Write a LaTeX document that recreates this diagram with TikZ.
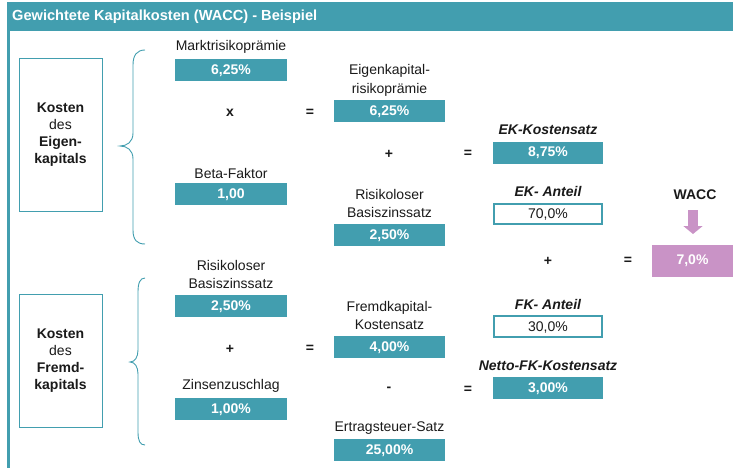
\documentclass[tikz,border=0pt]{standalone}
\usepackage{fontspec}
\setmainfont{Liberation Sans}
\usetikzlibrary{arrows.meta}
\definecolor{tealc}{HTML}{429EAF}
\definecolor{pinkc}{HTML}{C993C6}
\definecolor{txtc}{HTML}{1A1A1A}
\tikzset{
  lbl/.style={font=\fontsize{14}{18}\selectfont, text=txtc, align=center, inner sep=0pt},
  lblb/.style={lbl, font=\fontsize{14}{18}\selectfont\bfseries},
  lbli/.style={lbl, font=\fontsize{14}{18}\selectfont\bfseries\itshape},
  val/.style={fill=tealc, text=white, font=\fontsize{14}{17}\selectfont\bfseries, minimum height=22pt, inner sep=0pt, text height=10pt, text depth=1pt},
  share/.style={draw=tealc, line width=1.6pt, fill=white, text=txtc, font=\fontsize{14}{17}\selectfont, minimum height=20.5pt, inner sep=0pt, text height=10pt, text depth=1pt},
  sidebox/.style={draw=tealc, line width=1pt, fill=white, minimum width=83pt, text=txtc, inner sep=0pt, align=center, font=\fontsize{14}{17}\selectfont},
  brace/.style={draw=tealc, line width=0.9pt},
  op/.style={font=\fontsize{14}{17}\selectfont\bfseries, text=txtc, inner sep=0pt}
}
\begin{document}
\begin{tikzpicture}[x=1pt,y=-1pt]
\useasboundingbox (0,0) rectangle (733,468);
% frame
\fill[tealc] (7,2) rectangle (733,31);
\fill[tealc] (7,31) rectangle (9.5,468);
\node[anchor=west, text=white, font=\fontsize{14.6}{17}\selectfont\bfseries, inner sep=0pt] (title) at (12,16.5) {Gewichtete Kapitalkosten (WACC) - Beispiel};

% side boxes
\node[sidebox, minimum height=152pt] (ek) at (60.5,135) {\textbf{Kosten}\\des\\\textbf{Eigen-}\\\textbf{kapitals}};
\node[sidebox, minimum height=133pt] (fk) at (60.5,360.5) {\textbf{Kosten}\\des\\\textbf{Fremd-}\\\textbf{kapitals}};

% braces
\draw[brace] (145,50) .. controls (137,50) and (133,55) .. (133,65) -- (133,133) .. controls (133,142) and (127,146) .. (120,146) .. controls (127,146) and (133,150) .. (133,159) -- (133,230) .. controls (133,240) and (137,244) .. (145,244);
\draw[brace] (145,278) .. controls (140,278) and (138,283) .. (138,292) -- (138,350) .. controls (138,357) and (135,362) .. (130,362) .. controls (135,362) and (138,367) .. (138,374) -- (138,432) .. controls (138,441) and (140,445) .. (145,445);

% column 1 (EK)
\node[lbl] (l1a) at (231,47) {Marktrisikoprämie};
\node[val, minimum width=112pt] (v1a) at (231,70) {6,25\%};
\node[op] (x1) at (230,113) {x};
\node[op] (eq1) at (310,113) {=};
\node[lbl] (l1b) at (231,173) {Beta-Faktor};
\node[val, minimum width=112pt] (v1b) at (231,193.5) {1,00};

% column 2 (EK)
\node[lbl] (l2a) at (389.5,80) {Eigenkapital-\\[1pt]risikoprämie};
\node[val, minimum width=111pt] (v2a) at (389.5,111) {6,25\%};
\node[op] (p2) at (389,154) {+};
\node[op] (eq2) at (468,154) {=};
\node[lbl] (l2b) at (389.5,203.5) {Risikoloser\\Basiszinssatz};
\node[val, minimum width=111pt] (v2b) at (389.5,234.5) {2,50\%};

% column 3 (EK)
\node[lbli] (l3a) at (548,130) {EK-Kostensatz};
\node[val, minimum width=110pt] (v3a) at (548,152.5) {8,75\%};
\node[lbli] (l3b) at (548,191) {EK- Anteil};
\node[share, minimum width=108pt] (v3b) at (548,214) {70,0\%};

% WACC
\node[lblb] (wacc) at (695,195) {WACC};
\node[op] (p4) at (548,261) {+};
\node[op] (eq4) at (628,261) {=};
\node[fill=pinkc, text=white, font=\fontsize{14}{17}\selectfont\bfseries, minimum width=81pt, minimum height=32pt, inner sep=0pt] (res) at (692.5,261) {7,0\%};
\coordinate (arrS) at (693,210);
\coordinate (arrE) at (693,234);
\draw[pinkc, line width=10pt, -{Triangle[width=19pt,length=8pt]}] (arrS) -- (arrE);

% column 1 (FK)
\node[lbl] (l1c) at (231,274) {Risikoloser\\Basiszinssatz};
\node[val, minimum width=112pt] (v1c) at (231,306) {2,50\%};
\node[op] (p5) at (230,349) {+};
\node[op] (eq5) at (310,349) {=};
\node[lbl] (l1d) at (231,386) {Zinsenzuschlag};
\node[val, minimum width=112pt] (v1d) at (231,409) {1,00\%};

% column 2 (FK)
\node[lbl] (l2c) at (389.5,315) {Fremdkapital-\\Kostensatz};
\node[val, minimum width=111pt] (v2c) at (389.5,347) {4,00\%};
\node[op] (m6) at (389,389) {-};
\node[op] (eq6) at (468,390) {=};
\node[lbl] (l2d) at (389.5,428) {Ertragsteuer-Satz};
\node[val, minimum width=111pt] (v2d) at (389.5,450) {25,00\%};

% column 3 (FK)
\node[lbli] (l3c) at (548,304) {FK- Anteil};
\node[share, minimum width=108pt] (v3c) at (548,326.5) {30,0\%};
\node[lbli] (l3d) at (548,366) {Netto-FK-Kostensatz};
\node[val, minimum width=110pt] (v3d) at (548,388) {3,00\%};
\end{tikzpicture}
\end{document}
